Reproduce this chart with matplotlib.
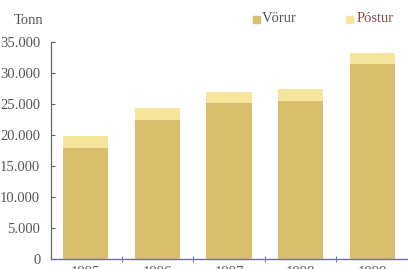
import matplotlib.pyplot as plt
import matplotlib.patches as mpatches
from matplotlib.ticker import FuncFormatter
import numpy as np

# Données
years = ['1995', '1996', '1997', '1998', '1999']
vorur = [17900, 22400, 25100, 25500, 31400]
postur = [1900, 2000, 1900, 1900, 1900]

col_vorur = '#d9be6e'
col_postur = '#f6e59c'
txt = '#555555'

plt.rcParams['font.family'] = ['Liberation Serif', 'DejaVu Serif']

fig = plt.figure(figsize=(4.08, 2.69), dpi=100)
ax = fig.add_axes([0.126, 0.037, 0.874, 0.807])

x = np.arange(len(years))
ax.bar(x, vorur, width=0.63, color=col_vorur, zorder=2)
ax.bar(x, postur, width=0.63, bottom=vorur, color=col_postur, zorder=2)

ax.set_xlim(-0.48, 4.5)
ax.set_ylim(0, 35000)
ax.set_yticks(np.arange(0, 35001, 5000))
ax.yaxis.set_major_formatter(FuncFormatter(lambda v, p: f'{int(v):,}'.replace(',', '.')))
ax.tick_params(axis='y', direction='in', length=3, width=0.8, colors='#666666',
               labelcolor=txt, labelsize=10.5, pad=8)

# ticks de l'axe x entre les barres, libellés centrés sous les barres
ax.set_xticks(x + 0.5)
ax.set_xticklabels([])
ax.set_xticks(x, minor=True)
ax.set_xticklabels(years, minor=True)
ax.tick_params(axis='x', which='major', direction='inout', length=4, width=0.7, colors='#7070a0')
ax.tick_params(axis='x', which='minor', length=0, labelcolor=txt, labelsize=10.5, pad=5)

for s in ['top', 'right']:
    ax.spines[s].set_visible(False)
ax.spines['left'].set_color('#666666')
ax.spines['left'].set_linewidth(0.9)
ax.spines['bottom'].set_color('#7070a8')
ax.spines['bottom'].set_linewidth(1.0)

fig.text(0.033, 0.925, 'Tonn', color=txt, fontsize=10.5, va='center')

# légende
fig.patches.append(mpatches.Rectangle((253 / 408, 1 - 23 / 269), 7 / 408, 7 / 269,
                                      transform=fig.transFigure, color=col_vorur))
fig.text(262 / 408, 1 - 19 / 269, 'Vörur', color=txt, fontsize=10.5, va='center')
fig.patches.append(mpatches.Rectangle((346 / 408, 1 - 23 / 269), 7 / 408, 7 / 269,
                                      transform=fig.transFigure, color=col_postur))
fig.text(357 / 408, 1 - 19 / 269, 'Póstur', color='#8a4a4a', fontsize=10.5, va='center')

fig.savefig('out.png', dpi=100)
